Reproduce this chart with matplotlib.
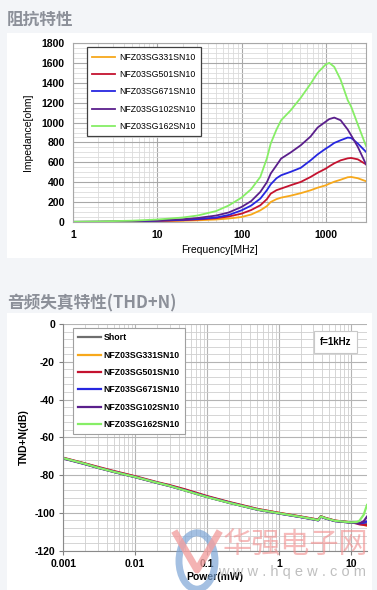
"""
阻抗特性 + 音频失真特性(THD+N) 重绘
"""
import matplotlib
matplotlib.use('Agg')
import matplotlib.pyplot as plt
from matplotlib.patches import Rectangle, Circle
from matplotlib.ticker import MultipleLocator, LogLocator, FixedLocator, NullFormatter

plt.rcParams['font.family'] = ['Liberation Sans', 'DejaVu Sans']
plt.rcParams['axes.unicode_minus'] = False

# ---- 数据：阻抗特性 ----
freq_mhz = [1, 2, 5, 10, 20, 30, 50, 70, 100, 130, 167, 200, 222, 260, 295, 384,
            505, 660, 800, 1000, 1100, 1260, 1500, 1820, 2000, 2400, 3000]
z_331 = [0.5, 1, 3, 7, 12, 17, 25, 35, 50, 75, 117, 160, 201, 230, 245, 265,
         290, 319, 345, 369, 385, 405, 425, 450, 453, 440, 410]
z_501 = [1, 2, 4, 10, 18, 25, 38, 55, 84, 120, 168, 230, 285, 320, 336, 370,
         403, 453, 495, 537, 560, 590, 620, 640, 644, 630, 580]
z_671 = [1, 2, 5, 13, 22, 30, 45, 70, 117, 165, 235, 320, 379, 440, 470, 505,
         545, 620, 680, 738, 760, 795, 822, 849, 845, 789, 705]
z_102 = [2, 3, 7, 16, 28, 40, 65, 95, 151, 210, 302, 400, 487, 570, 638, 700,
         772, 860, 950, 1010, 1035, 1050, 1023, 930, 872, 755, 580]
z_162 = [3, 6, 13, 25, 45, 65, 110, 165, 245, 330, 453, 640, 789, 930, 1023, 1124,
         1250, 1390, 1500, 1585, 1600, 1560, 1430, 1225, 1160, 980, 765]

part_names = ['NFZ03SG331SN10', 'NFZ03SG501SN10', 'NFZ03SG671SN10',
              'NFZ03SG102SN10', 'NFZ03SG162SN10']
part_colors = ['#f7a81b', '#c4122f', '#2626e0', '#5a1f8c', '#86ee66']

# ---- 数据：THD+N ----
power_mw = [0.001, 0.002, 0.003, 0.005, 0.01, 0.02, 0.03, 0.05, 0.1, 0.2, 0.3,
            0.5, 1, 2, 3, 3.5, 3.8, 4.5, 6, 10, 12, 13, 15, 16.7]
thd_short = [-71, -74, -76, -78.2, -81, -84, -85.6, -88, -91.5, -94.5, -96.1,
             -98.2, -100.2, -102.1, -103.3, -103.8, -101.9, -102.9, -104.2, -105.1, -105.3, -105.4, -105.5, -105.6]
thd_331 = [-71, -73.9, -75.8, -78, -80.8, -83.9, -85.5, -87.8, -91.3, -94.3, -96,
           -98, -100, -102, -103.2, -103.7, -101.8, -102.8, -104.1, -105, -105.4, -105.8, -106.3, -106.8]
thd_501 = [-70.8, -73.8, -75.6, -77.8, -80.6, -83.7, -85.3, -87.6, -91.1, -94.2, -95.8,
           -97.9, -100, -101.9, -103.1, -103.6, -101.8, -102.8, -104.1, -105, -105.5, -106, -106.3, -106.5]
thd_671 = [-71.1, -74.1, -76, -78.2, -81, -84, -85.7, -88.1, -91.5, -94.5, -96.2,
           -98.2, -100.3, -102.2, -103.4, -103.9, -102, -103, -104.3, -105.1, -105.3, -105.5, -105.2, -104.5]
thd_102 = [-71.2, -74.2, -76.1, -78.3, -81.1, -84.1, -85.8, -88.2, -91.6, -94.6, -96.2,
           -98.3, -100.3, -102.2, -103.4, -103.9, -102, -103, -104.3, -105.1, -105.4, -105.5, -104.5, -102]
thd_162 = [-71, -74, -76, -78.2, -81, -84, -85.7, -88.2, -91.6, -94.6, -96.2,
           -98.2, -100.2, -102.1, -103.3, -103.8, -101.9, -102.9, -104.2, -105, -104.8, -104.3, -101, -95.8]

W, H = 377, 590
fig = plt.figure(figsize=(W / 100, H / 100), dpi=100)
fig.patch.set_facecolor('#f3f5f8')

# 白色面板（放在坐标轴下面）
for (y0, y1) in [(33, 258), (313, 590)]:
    fig.patches.append(Rectangle((7 / W, 1 - y1 / H), 365 / W, (y1 - y0) / H,
                                 transform=fig.transFigure, facecolor='white',
                                 edgecolor='none', zorder=-10))

title_font = ['Noto Sans CJK SC', 'DejaVu Sans']
fig.text(7 / W, 1 - 20 / H, '阻抗特性', family=title_font, fontsize=12,
         fontweight='bold', color='#8c9099', va='center', ha='left')
fig.text(7 / W, 1 - 303 / H, '音频失真特性(THD+N)', family=title_font, fontsize=12,
         fontweight='bold', color='#8c9099', va='center', ha='left')

# ---- 上图 ----
ax1 = fig.add_axes([73 / W, 1 - 222 / H, 293 / W, 179 / H])
ax1.set_facecolor('white')
for z, name, c in zip([z_331, z_501, z_671, z_102, z_162], part_names, part_colors):
    ax1.plot(freq_mhz, z, color=c, lw=1.3, label=name)
ax1.set_xscale('log')
ax1.set_xlim(1, 3000)
ax1.set_ylim(0, 1800)
ax1.yaxis.set_major_locator(MultipleLocator(200))
ax1.yaxis.set_minor_locator(MultipleLocator(50))
ax1.xaxis.set_major_locator(FixedLocator([1, 10, 100, 1000]))
ax1.xaxis.set_minor_locator(LogLocator(base=10, subs=range(2, 10)))
ax1.xaxis.set_minor_formatter(NullFormatter())
ax1.set_xticklabels(['1', '10', '100', '1000'])
ax1.grid(which='major', color='#a8a8a8', lw=0.8)
ax1.grid(which='minor', color='#dcdcdc', lw=0.6)
ax1.set_axisbelow(True)
ax1.tick_params(which='both', length=0, labelsize=7.5, pad=6)
for lbl in ax1.get_xticklabels() + ax1.get_yticklabels():
    lbl.set_fontweight('semibold')
for s in ax1.spines.values():
    s.set_color('#a8a8a8')
    s.set_linewidth(0.8)
ax1.set_xlabel('Frequency[MHz]', fontsize=7.5, labelpad=3)
ax1.set_ylabel('Impedance[ohm]', fontsize=7.5, labelpad=6)
leg1 = ax1.legend(loc='upper left', bbox_to_anchor=(0.048, 0.975), fontsize=6.3,
                  frameon=True, fancybox=False, edgecolor='#404040', framealpha=1,
                  handlelength=2.6, handletextpad=0.5, labelspacing=0.95,
                  borderpad=0.6, borderaxespad=0)
leg1.get_frame().set_linewidth(0.9)

# ---- 下图 ----
ax2 = fig.add_axes([63.3 / W, 1 - 550.7 / H, 303.7 / W, 226.7 / H])
ax2.set_facecolor('white')
ax2.plot(power_mw, thd_short, color='#6e6e6e', lw=1.6, label='Short')
for t, name, c in zip([thd_331, thd_501, thd_671, thd_102, thd_162], part_names, part_colors):
    ax2.plot(power_mw, t, color=c, lw=1.6, label=name)
ax2.set_xscale('log')
ax2.set_xlim(0.001, 16.7)
ax2.set_ylim(-120, 0)
ax2.yaxis.set_major_locator(MultipleLocator(20))
ax2.yaxis.set_minor_locator(MultipleLocator(4))
ax2.xaxis.set_major_locator(FixedLocator([0.001, 0.01, 0.1, 1, 10]))
ax2.xaxis.set_minor_locator(LogLocator(base=10, subs=range(2, 10)))
ax2.xaxis.set_minor_formatter(NullFormatter())
ax2.set_xticklabels(['0.001', '0.01', '0.1', '1', '10'])
ax2.grid(which='major', color='#b4b4b4', lw=0.8)
ax2.grid(which='minor', color='#cfcfcf', lw=0.6)
ax2.set_axisbelow(True)
ax2.tick_params(which='major', length=3, labelsize=7.5, color='#808080', pad=3)
ax2.tick_params(which='minor', length=0)
for lbl in ax2.get_xticklabels() + ax2.get_yticklabels():
    lbl.set_fontweight('bold')
for side in ['left', 'bottom']:
    ax2.spines[side].set_color('#8a8a8a')
for side in ['top', 'right']:
    ax2.spines[side].set_visible(False)
ax2.set_xlabel('Power(mW)', fontsize=7.5, fontweight='bold', labelpad=2)
ax2.set_ylabel('TND+N(dB)', fontsize=7.5, fontweight='bold', labelpad=4)
leg2 = ax2.legend(loc='upper left', bbox_to_anchor=(0.032, 0.982),
                  prop={'size': 6.3, 'weight': 'bold'},
                  frameon=True, fancybox=False, edgecolor='#a0a0a0', framealpha=1,
                  handlelength=2.6, handletextpad=0.3, labelspacing=0.95,
                  borderpad=0.6, borderaxespad=0)
leg2.get_frame().set_linewidth(0.8)
ax2.text(0.896, 0.92, 'f=1kHz', transform=ax2.transAxes, ha='center', va='center',
         fontsize=7, fontweight='bold',
         bbox=dict(boxstyle='square,pad=0.6', facecolor='white', edgecolor='#c8c8c8', lw=0.8))

# ---- 水印 ----
fig.patches.append(Circle((197 / W, 1 - 561 / H), 18 / W, transform=fig.transFigure,
                          facecolor='none', edgecolor='#7ea6d6', lw=5, alpha=0.7, zorder=5))
fig.lines.append(plt.Line2D([176 / W, 197 / W, 218 / W],
                            [1 - 534 / H, 1 - 570 / H, 1 - 534 / H],
                            transform=fig.transFigure, color='#f2a0a0', lw=5,
                            alpha=0.8, zorder=6))
fig.text(295 / W, 1 - 546 / H, '华强电子网', family=title_font, fontsize=21,
         color='#f08c8c', alpha=0.6, ha='center', va='center', zorder=7)
fig.text(292 / W, 1 - 572 / H, 'w w w . h q e w . c o m', fontsize=10.5,
         color='#b8b8b8', alpha=0.9, ha='center', va='center', zorder=7)

plt.savefig('out.png', dpi=100, facecolor=fig.get_facecolor())
plt.close()
